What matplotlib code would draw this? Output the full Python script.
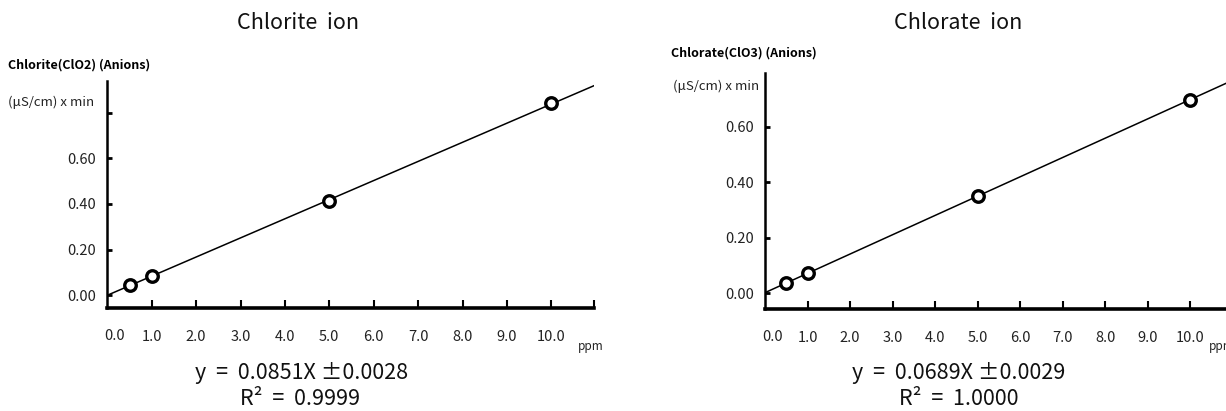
import matplotlib
matplotlib.use("Agg")
import matplotlib.pyplot as plt
import numpy as np

# calibration data
conc = [0.5, 1.0, 5.0, 10.0]
chlorite_area = [0.045, 0.085, 0.413, 0.840]
chlorate_area = [0.036, 0.072, 0.352, 0.696]

xtick_vals = [1, 2, 3, 4, 5, 6, 7, 8, 9, 10]
xtick_labels = ["1.0", "2.0", "3.0", "4.0", "5.0", "6.0", "7.0", "8.0", "9.0", "10.0"]
ytick_vals = [0.0, 0.2, 0.4, 0.6, 0.8]
ytick_labels = ["0.00", "0.20", "0.40", "0.60", ""]

titles = ["Chlorite  ion", "Chlorate  ion"]
ylabels = ["Chlorite(ClO2) (Anions)", "Chlorate(ClO3) (Anions)"]
equations = ["y  =  0.0851X \u00b10.0028", "y  =  0.0689X \u00b10.0029"]
r2_texts = ["R\u00b2  =  0.9999", "R\u00b2  =  1.0000"]

NARROW = ["Noto Sans CJK KR", "DejaVu Sans"]
ROUND = ["Noto Sans CJK KR", "DejaVu Sans"]
GREY = "#222222"

W, H = 1226, 411
fig = plt.figure(figsize=(W / 100, H / 100), dpi=100)


def px(x, y):
    # pixel position (from top-left) -> figure fraction
    return x / W, 1 - y / H


def make_panel(x0, x_end, y_top, y_bot, xmax, ylim, area, idx,
               title_xy, ylab_xy, unit_xy, eq_xy, r2_xy, ppm_xy, zero_xy):
    ax = fig.add_axes([x0 / W, 1 - y_bot / H, (x_end - x0) / W, (y_bot - y_top) / H])
    ax.set_xlim(0, xmax)
    ax.set_ylim(*ylim)

    fit = np.polyfit(conc, area, 1)
    xs = np.array([0, xmax])
    ax.plot(xs, np.polyval(fit, xs), color="black", lw=1.1, zorder=2)
    ax.plot(conc, area, "o", ms=8.3, mfc="white", mec="black", mew=2.4, zorder=3,
            clip_on=False)

    for s in ["top", "right"]:
        ax.spines[s].set_visible(False)
    ax.spines["bottom"].set_linewidth(2.6)
    ax.spines["left"].set_linewidth(1.8)

    ax.set_xticks(xtick_vals + [xmax])
    ax.set_xticklabels(xtick_labels + [""], family=NARROW, fontsize=10.5, color=GREY)
    ax.tick_params(axis="x", direction="in", length=6, width=1.5, pad=16)
    ys = [v for v in ytick_vals if v <= ylim[1]]
    ax.set_yticks(ys)
    ax.set_yticklabels(ytick_labels[:len(ys)], family=NARROW, fontsize=10.5, color=GREY)
    ax.tick_params(axis="y", direction="in", length=3.5, width=2, pad=8)

    fig.text(*px(*title_xy), titles[idx], ha="center", va="center",
             family=ROUND, fontsize=15.5, color="#111111")
    fig.text(*px(*ylab_xy), ylabels[idx], ha="left", va="center",
             family=NARROW, fontsize=9, fontweight="bold")
    fig.text(*px(*unit_xy), "(\u03bcS/cm) x min", ha="left", va="center",
             family=NARROW, fontsize=9.5, color=GREY)
    fig.text(*px(*eq_xy), equations[idx], ha="center", va="center",
             family=ROUND, fontsize=15.5, color="#111111")
    fig.text(*px(*r2_xy), r2_texts[idx], ha="center", va="center",
             family=ROUND, fontsize=15.5, color="#111111")
    fig.text(*px(*ppm_xy), "ppm", ha="left", va="center",
             family=NARROW, fontsize=8.5, color=GREY)
    fig.text(*px(*zero_xy), "0.0", ha="center", va="center",
             family=NARROW, fontsize=10.5, color=GREY)
    return ax


make_panel(107.3, 594, 81, 308, 10.96, (-0.055, 0.938),
           chlorite_area, 0,
           title_xy=(298, 23), ylab_xy=(8, 65), unit_xy=(8, 102),
           eq_xy=(302, 373), r2_xy=(300, 399), ppm_xy=(578, 346), zero_xy=(115, 336))

make_panel(765.1, 765.1 + 11 * 42.5, 72.7, 309, 11.0, (-0.0565, 0.794),
           chlorate_area, 1,
           title_xy=(958, 23), ylab_xy=(671, 53), unit_xy=(673, 86),
           eq_xy=(959, 373), r2_xy=(959, 399), ppm_xy=(1209, 346), zero_xy=(773, 337))

fig.savefig("out.png", dpi=100)
